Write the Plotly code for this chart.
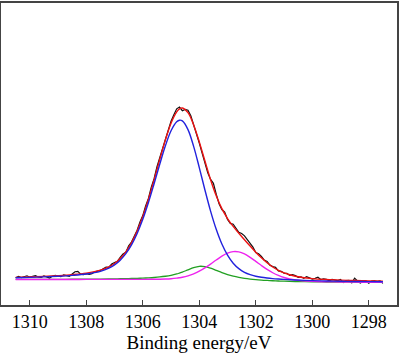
import plotly.graph_objects as go

# Binding energy grid (eV) for fitted curves
energy_fit = [1310.5, 1310.0, 1309.5, 1309.0, 1308.5, 1308.0, 1307.5, 1307.2, 1307.0,
              1306.8, 1306.6, 1306.4, 1306.2, 1306.0, 1305.8, 1305.6, 1305.4, 1305.2,
              1305.0, 1304.8, 1304.7, 1304.6, 1304.4, 1304.2, 1304.0, 1303.8, 1303.6,
              1303.4, 1303.2, 1303.0, 1302.8, 1302.6, 1302.4, 1302.2, 1302.0, 1301.8,
              1301.6, 1301.4, 1301.2, 1301.0, 1300.6, 1300.0, 1299.5, 1299.0, 1298.5,
              1298.0, 1297.5]

envelope = [27.83, 28.24, 28.78, 29.51, 30.52, 32.09, 35.03, 38.39, 41.81,
            46.76, 53.52, 62.61, 74.45, 89.05, 106.45, 125.97, 146.51, 166.24,
            183.01, 194.33, 197.4, 198.36, 193.59, 181.28, 164.23, 144.96, 126.15,
            109.93, 96.95, 87.04, 79.12, 72.29, 65.73, 59.34, 53.17, 47.47,
            42.49, 38.29, 34.91, 32.29, 28.94, 26.6, 25.67, 25.07, 24.62,
            24.29, 24.02]

peak_main = [27.45, 27.81, 28.27, 28.90, 29.79, 31.19, 33.90, 37.07, 40.34,
             45.11, 51.66, 60.50, 72.03, 86.24, 103.13, 122.01, 141.68, 160.23,
             175.36, 184.40, 186.02, 185.33, 176.57, 159.70, 138.35, 115.80, 94.47,
             76.15, 61.34, 50.15, 42.06, 36.59, 32.93, 30.58, 28.99, 27.90,
             27.16, 26.58, 26.13, 25.75, 25.17, 24.55, 24.19, 23.91, 23.69,
             23.52, 23.38]

peak_mid = [25.73, 25.75, 25.78, 25.84, 25.90, 26.01, 26.14, 26.25, 26.33,
            26.43, 26.54, 26.67, 26.84, 27.05, 27.33, 27.70, 28.22, 28.93,
            29.92, 31.30, 32.17, 33.14, 35.39, 37.61, 38.93, 38.60, 37.02,
            34.82, 32.59, 30.66, 29.08, 27.84, 26.88, 26.13, 25.54, 25.06,
            24.70, 24.41, 24.16, 23.95, 23.64, 23.33, 23.17, 23.04, 22.95,
            22.87, 22.81]

peak_low = [25.65, 25.66, 25.67, 25.69, 25.71, 25.75, 25.79, 25.81, 25.82,
            25.84, 25.84, 25.84, 25.84, 25.84, 25.85, 25.88, 25.97, 26.14,
            26.45, 27.03, 27.45, 27.95, 29.37, 31.37, 34.05, 37.36, 41.20,
            45.26, 49.10, 52.13, 53.70, 53.44, 51.38, 47.99, 43.92, 39.71,
            35.81, 32.46, 29.74, 27.69, 25.19, 23.76, 23.35, 23.14, 23.00,
            22.90, 22.83]

# Measured spectrum, 0.1 eV steps from 1310.5 down to 1297.5
energy_raw = [round(1310.5 - 0.1 * i, 1) for i in range(131)]
intensity_raw = [
    27.5, 28.9, 27.6, 28.3, 29.4, 28.0, 29.1, 29.6, 28.2, 27.9,
    29.3, 28.4, 27.2, 28.9, 29.8, 29.0, 28.6, 30.4, 29.5, 28.9,
    31.2, 33.5, 33.8, 31.0, 30.6, 31.5, 30.9, 31.6, 33.4, 34.0,
    34.8, 36.5, 38.2, 38.0, 41.2, 42.8, 44.0, 47.9, 51.5, 53.2,
    59.6, 63.4, 69.9, 75.2, 83.7, 90.0, 99.6, 107.3, 118.6, 127.1,
    138.9, 148.2, 158.6, 168.9, 177.4, 184.9, 191.6, 197.5, 199.3, 195.6,
    196.8, 196.0, 190.5, 181.8, 172.0, 163.1, 152.8, 143.2, 133.0, 126.4,
    122.5, 111.5, 102.0, 96.1, 93.4, 86.2, 82.1, 81.3, 76.8, 73.1,
    71.9, 69.6, 65.8, 62.4, 58.2, 52.9, 51.6, 48.9, 45.2, 43.8,
    40.1, 38.7, 37.9, 34.4, 33.9, 32.1, 31.9, 29.8, 30.5, 29.6,
    27.9, 28.4, 26.9, 28.6, 27.5, 26.0, 26.8, 27.9, 25.6, 26.3,
    25.9, 24.3, 25.8, 25.0, 24.6, 25.7, 22.6, 24.5, 24.9, 22.4,
    27.0, 24.2, 22.1, 24.0, 24.3, 22.0, 24.1, 24.4, 23.8, 24.3,
    21.8]

x_ticks = [1310, 1308, 1306, 1304, 1302, 1300, 1298]
x_title = "Binding energy/eV"

serif = "Liberation Serif"

fig = go.Figure()
fig.add_trace(go.Scatter(x=energy_raw, y=intensity_raw, mode="lines",
                         line=dict(color="#111111", width=1.2)))
fig.add_trace(go.Scatter(x=energy_fit, y=envelope, mode="lines",
                         line=dict(color="#ee1111", width=1.4, shape="spline", smoothing=1.0)))
fig.add_trace(go.Scatter(x=energy_fit, y=peak_mid, mode="lines",
                         line=dict(color="#22a022", width=1.3, shape="spline", smoothing=1.0)))
fig.add_trace(go.Scatter(x=energy_fit, y=peak_low, mode="lines",
                         line=dict(color="#ee22ee", width=1.4, shape="spline", smoothing=1.0)))
fig.add_trace(go.Scatter(x=energy_fit, y=peak_main, mode="lines",
                         line=dict(color="#2222dd", width=1.4, shape="spline", smoothing=1.0)))

fig.update_layout(
    width=400, height=354,
    margin=dict(l=1, r=1, t=1, b=49),
    paper_bgcolor="white", plot_bgcolor="white",
    showlegend=False,
    font=dict(family=serif, size=18, color="black"),
    xaxis=dict(
        range=[1311.02, 1297.0], tickvals=x_ticks,
        ticks="inside", ticklen=5, tickwidth=1.2, tickcolor="#444444",
        showline=True, linecolor="#444444", linewidth=1.5, mirror=True,
        showgrid=False, zeroline=False,
        tickfont=dict(family=serif, size=18, color="black"),
        title=dict(text=x_title, font=dict(family=serif, size=19, color="black"), standoff=4),
    ),
    yaxis=dict(
        range=[0, 304], showticklabels=False, ticks="",
        showline=True, linecolor="#444444", linewidth=1.5, mirror=True,
        showgrid=False, zeroline=False,
    ),
)

fig.write_html("out.html")
